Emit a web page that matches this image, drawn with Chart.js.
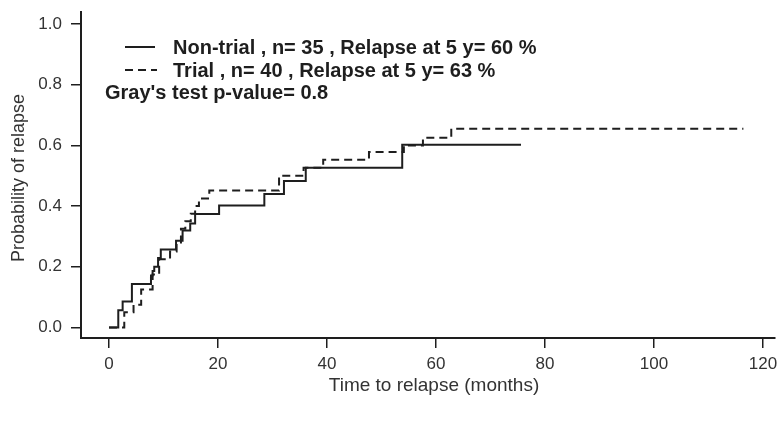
<!DOCTYPE html>
<html>
<head>
<meta charset="utf-8">
<script src="https://cdn.jsdelivr.net/npm/chart.js@4"></script>
<style>
body{margin:0;background:#fff;}
canvas{display:block;}
</style>
</head>
<body>
<canvas id="myChart" width="781" height="421"></canvas>
<script>
// step points (months, cumulative probability)
var nonTrialMonths = [0, 1.7, 2.5, 4.2, 7.7, 8.0, 8.3, 9.0, 9.5, 12.3, 13.5, 14.9, 15.8, 20.2, 28.5, 32.1, 36.1, 53.8, 75.6];
var nonTrialProb   = [0, 0.057, 0.086, 0.143, 0.171, 0.186, 0.2, 0.229, 0.257, 0.286, 0.32, 0.343, 0.374, 0.402, 0.44, 0.483, 0.526, 0.602, 0.602];
var trialMonths = [0, 2.8, 4.5, 5.9, 8.0, 9.2, 11.2, 12.4, 13.2, 14.0, 15.0, 15.8, 16.5, 18.4, 31.2, 35.7, 39.3, 47.7, 54.1, 57.6, 62.8, 116.4];
var trialProb   = [0, 0.05, 0.075, 0.125, 0.175, 0.225, 0.25, 0.275, 0.325, 0.35, 0.375, 0.4, 0.425, 0.451, 0.5, 0.526, 0.553, 0.578, 0.6, 0.625, 0.655, 0.655];
var xTicks = [0, 20, 40, 60, 80, 100, 120];
var yTicks = [0, 0.2, 0.4, 0.6, 0.8, 1.0];
var legendLabels = ["Non-trial , n= 35 , Relapse at 5 y= 60 %", "Trial , n= 40 , Relapse at 5 y= 63 %"];
var testLabel = "Gray's test p-value= 0.8";
var xTitle = "Time to relapse (months)";
var yTitle = "Probability of relapse";

var ink = '#1e1e1e';

function toPoints(xs, ys){
	var pts = [];
	for (var i in xs){
		pts.push({x: xs[i], y: ys[i]});
	}
	return pts;
}

function noPad(scale){
	scale.paddingTop = 0;
	scale.paddingBottom = 0;
	scale.paddingLeft = 0;
	scale.paddingRight = 0;
}

var textPlugin = {
	id: 'texts',
	afterDraw: function(chart){
		var ctx = chart.ctx;
		ctx.save();
		// legend
		ctx.strokeStyle = ink;
		ctx.lineWidth = 2;
		ctx.beginPath();
		ctx.moveTo(125, 47); ctx.lineTo(155, 47);
		ctx.stroke();
		ctx.setLineDash([8, 5]);
		ctx.beginPath();
		ctx.moveTo(125, 70); ctx.lineTo(157, 70);
		ctx.stroke();
		ctx.setLineDash([]);
		ctx.fillStyle = ink;
		ctx.font = 'bold 20px "Liberation Sans", Arial, sans-serif';
		ctx.textAlign = 'left';
		ctx.textBaseline = 'alphabetic';
		ctx.fillText(legendLabels[0], 173, 54);
		ctx.fillText(legendLabels[1], 173, 77);
		ctx.fillText(testLabel, 105, 99);
		// axis titles
		ctx.fillStyle = '#333';
		ctx.textAlign = 'center';
		ctx.textBaseline = 'middle';
		ctx.font = '19px "Liberation Sans", Arial, sans-serif';
		ctx.fillText(xTitle, 434, 386);
		ctx.font = '18px "Liberation Sans", Arial, sans-serif';
		ctx.translate(19, 178);
		ctx.rotate(-Math.PI / 2);
		ctx.fillText(yTitle, 0, 0);
		ctx.restore();
	}
};

var ctx = document.getElementById('myChart');
var chart = new Chart(ctx, {
	type: 'line',
	data: {
		datasets: [{
			label: legendLabels[0],
			data: toPoints(nonTrialMonths, nonTrialProb),
			borderColor: ink,
			borderWidth: 2,
			stepped: true,
			pointRadius: 0,
			fill: false
		}, {
			label: legendLabels[1],
			data: toPoints(trialMonths, trialProb),
			borderColor: ink,
			borderWidth: 2,
			borderDash: [8, 5],
			stepped: true,
			pointRadius: 0,
			fill: false
		}]
	},
	options: {
		responsive: false,
		animation: false,
		devicePixelRatio: 1,
		layout: {padding: {top: 12, right: 6, left: 0, bottom: 0}},
		plugins: {legend: {display: false}, tooltip: {enabled: false}},
		scales: {
			x: {
				type: 'linear',
				min: -5.14,
				max: 122.2,
				afterBuildTicks: function(axis){
					axis.ticks = xTicks.map(function(v){ return {value: v}; });
				},
				afterFit: function(scale){ scale.height = 83; noPad(scale); },
				grid: {drawOnChartArea: false, drawTicks: true, tickLength: 10, color: ink, lineWidth: 1.5},
				border: {display: true, color: ink, width: 2},
				ticks: {
					color: '#333',
					font: {family: '"Liberation Sans", Arial, sans-serif', size: 17},
					padding: 6,
					maxRotation: 0,
					autoSkip: false
				}
			},
			y: {
				min: -0.0346,
				max: 1.0395,
				afterBuildTicks: function(axis){
					axis.ticks = yTicks.map(function(v){ return {value: v}; });
				},
				afterFit: function(scale){ scale.width = 81; noPad(scale); },
				grid: {drawOnChartArea: false, drawTicks: true, tickLength: 10, color: ink, lineWidth: 1.5},
				border: {display: true, color: ink, width: 2},
				ticks: {
					color: '#333',
					font: {family: '"Liberation Sans", Arial, sans-serif', size: 17},
					padding: 9,
					autoSkip: false,
					callback: function(v){ return v.toFixed(1); }
				}
			}
		}
	},
	plugins: [textPlugin]
});
</script>
</body>
</html>
